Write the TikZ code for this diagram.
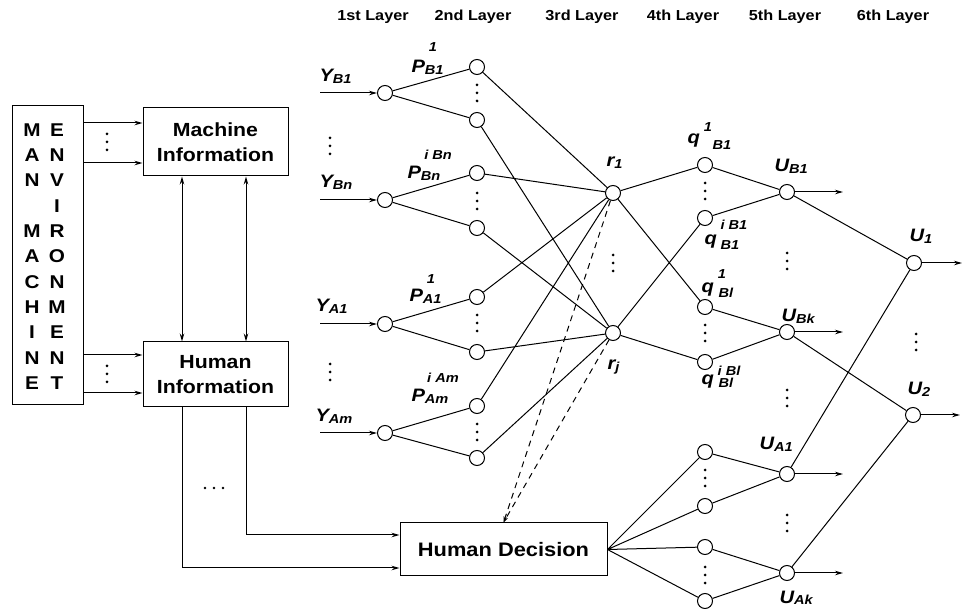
\documentclass[tikz,border=0pt]{standalone}
\usepackage{fontspec}
\setmainfont{Liberation Sans}[FakeStretch=1.12]
\usetikzlibrary{arrows.meta}
\newcommand{\sbs}[1]{\raisebox{-1.5pt}{\fontsize{13}{13}\selectfont #1}}
\begin{document}
\begin{tikzpicture}[x=1pt,y=-1pt,line width=1pt,
 nd/.style={circle, draw, fill=white, minimum size=15pt, inner sep=0pt},
 box/.style={draw, inner sep=0pt},
 btxt/.style={font=\fontsize{19}{25}\selectfont\bfseries, align=center},
 hdr/.style={font=\fontsize{14.5}{15}\selectfont\bfseries, inner sep=0pt},
 lbl/.style={font=\fontsize{18}{18}\selectfont\bfseries\itshape, inner sep=0pt},
 sup/.style={font=\fontsize{13}{13}\selectfont\bfseries\itshape, inner sep=0pt},
 arr/.style={-{Stealth[length=8pt,width=4.5pt]}},
 darr/.style={{Stealth[length=8pt,width=4.5pt]}-{Stealth[length=8pt,width=4.5pt]}},
 dd/.style={dash pattern=on 6pt off 5pt, -{Stealth[length=6pt,width=3.5pt]}},
 envl/.style={font=\fontsize{18.5}{18}\selectfont\bfseries, inner sep=0pt},
 vdts/.pic={\fill (0,-8) circle[radius=1.5pt] (0,0) circle[radius=1.5pt] (0,8) circle[radius=1.5pt];},
 hdts/.pic={\fill (-9,0) circle[radius=1.3pt] (0,0) circle[radius=1.3pt] (9,0) circle[radius=1.3pt];}
]
\useasboundingbox (0,0) rectangle (962,609);

% headers
\node[hdr] (h1) at (373,17) {1st Layer};
\node[hdr] (h2) at (473,17) {2nd Layer};
\node[hdr] (h3) at (582,17) {3rd Layer};
\node[hdr] (h4) at (683,17) {4th Layer};
\node[hdr] (h5) at (785,17) {5th Layer};
\node[hdr] (h6) at (893,17) {6th Layer};

% environment box
\node[box, minimum width=71pt, minimum height=299pt] (env) at (47.5,255.5) {};
\foreach \c [count=\i from 0] in {M,A,N,,M,A,C,H,I,N,E}
  \node[envl] (el\i) at (32,130+25.3*\i) {\c};
\foreach \c [count=\i from 0] in {E,N,V,I,R,O,N,M,E,N,T}
  \node[envl] (er\i) at (57,130+25.3*\i) {\c};

% information boxes
\node[box, minimum width=145pt, minimum height=68pt, btxt] (mi) at (215.5,142) {Machine\\Information};
\node[box, minimum width=145pt, minimum height=65pt, btxt] (hi) at (215.5,374.5) {Human\\Information};
\node[box, minimum width=207pt, minimum height=53pt, font=\fontsize{19.5}{22}\selectfont\bfseries] (hd) at (503.5,549.5) {Human Decision};

\draw[arr] (env.east |- 0,123) -- (mi.west |- 0,123);
\draw[arr] (env.east |- 0,163) -- (mi.west |- 0,163);
\draw[arr] (env.east |- 0,355) -- (hi.west |- 0,355);
\draw[arr] (env.east |- 0,393) -- (hi.west |- 0,393);
\pic at (107,142) {vdts};
\pic at (107,374) {vdts};

\draw[darr] (mi.south -| 182,0) -- (hi.north -| 182,0);
\draw[darr] (mi.south -| 246,0) -- (hi.north -| 246,0);

\draw[arr] (hi.south -| 182,0) |- (hd.west |- 0,568);
\draw[arr] (hi.south -| 246,0) |- (hd.west |- 0,535);
\pic at (214,488) {hdts};

% layer 1
\node[nd] (y1) at (385,93) {};
\node[nd] (y2) at (385,200) {};
\node[nd] (y3) at (385,324) {};
\node[nd] (y4) at (385,433) {};
\coordinate (i1) at (320,93);
\coordinate (i2) at (320,200);
\coordinate (i3) at (320,324);
\coordinate (i4) at (320,433);
\foreach \k in {1,...,4} \draw[arr] (i\k) -- (y\k);
\pic at (330,146) {vdts};
\pic at (330,372) {vdts};

\node[lbl, anchor=base west] (ly1) at (319,82) {Y\sbs{B1}};
\node[lbl, anchor=base west] (ly2) at (319,188) {Y\sbs{Bn}};
\node[lbl, anchor=base west] (ly3) at (315,312) {Y\sbs{A1}};
\node[lbl, anchor=base west] (ly4) at (315,422) {Y\sbs{Am}};

% layer 2
\foreach \k/\yy in {1/67,2/120,3/173,4/228,5/297,6/352,7/406,8/458}
  \node[nd] (p\k) at (477,\yy) {};
\draw (y1) -- (p1) (y1) -- (p2) (y2) -- (p3) (y2) -- (p4)
      (y3) -- (p5) (y3) -- (p6) (y4) -- (p7) (y4) -- (p8);
\pic at (477,93) {vdts};
\pic at (477,201) {vdts};
\pic at (477,323) {vdts};
\pic at (477,432) {vdts};

\node[lbl, anchor=base west] (lp1) at (411,73) {P\sbs{B1}};
\node[sup] (sp1) at (433,47) {1};
\node[lbl, anchor=base west] (lp2) at (407,179) {P\sbs{Bn}};
\node[sup] (sp2) at (438,155) {i Bn};
\node[lbl, anchor=base west] (lp3) at (409,302) {P\sbs{A1}};
\node[sup] (sp3) at (431,279) {1};
\node[lbl, anchor=base west] (lp4) at (411,402) {P\sbs{Am}};
\node[sup] (sp4) at (443,378) {i Am};

% layer 3
\node[nd] (r1) at (613,193) {};
\node[nd] (rj) at (613,333) {};
\draw (p1) -- (r1) (p2) -- (rj) (p3) -- (r1) (p4) -- (rj)
      (p5) -- (r1) (p6) -- (rj) (p7) -- (r1) (p8) -- (rj);
\pic at (613,263) {vdts};
\node[lbl, anchor=base west] (lr1) at (606,167) {r\sbs{1}};
\node[lbl, anchor=base west] (lrj) at (607,370) {r\sbs{j}};

% layer 4
\node[nd] (q1) at (705,165) {};
\node[nd] (q2) at (705,218) {};
\node[nd] (q3) at (705,307) {};
\node[nd] (q4) at (705,362) {};
\draw (r1) -- (q1) (r1) -- (q3) (rj) -- (q2) (rj) -- (q4);
\pic at (705,191) {vdts};
\pic at (705,333) {vdts};

\node[lbl, anchor=base west] (lq1) at (687,144) {q};
\node[sup, anchor=base west] (sq1) at (712,150) {B1};
\node[sup] (tq1) at (708,127) {1};
\node[lbl, anchor=base west] (lq2) at (704,245) {q};
\node[sup, anchor=base west] (sq2) at (720,250) {B1};
\node[sup] (tq2) at (734,225) {i B1};
\node[lbl, anchor=base west] (lq3) at (701,293) {q};
\node[sup, anchor=base west] (sq3) at (718,298) {Bl};
\node[sup] (tq3) at (722,274) {1};
\node[lbl, anchor=base west] (lq4) at (701,385) {q};
\node[sup, anchor=base west] (sq4) at (718,388) {Bl};
\node[sup] (tq4) at (729,371) {i Bl};

% bottom layer 4
\node[nd] (b1) at (705,452) {};
\node[nd] (b2) at (705,506) {};
\node[nd] (b3) at (705,547) {};
\node[nd] (b4) at (705,601) {};
\draw (hd.east) -- (b1) (hd.east) -- (b2) (hd.east) -- (b3) (hd.east) -- (b4);
\pic at (705,478) {vdts};
\pic at (705,575) {vdts};

% layer 5
\node[nd] (ub1) at (787,192) {};
\node[nd] (ubk) at (787,332) {};
\node[nd] (ua1) at (787,474) {};
\node[nd] (uak) at (787,573) {};
\draw (q1) -- (ub1) (q2) -- (ub1) (q3) -- (ubk) (q4) -- (ubk)
      (b1) -- (ua1) (b2) -- (ua1) (b3) -- (uak) (b4) -- (uak);
\coordinate (o1) at (843,192);
\coordinate (o2) at (843,332);
\coordinate (o3) at (843,474);
\coordinate (o4) at (843,573);
\draw[arr] (ub1) -- (o1);
\draw[arr] (ubk) -- (o2);
\draw[arr] (ua1) -- (o3);
\draw[arr] (uak) -- (o4);
\pic at (787,261) {vdts};
\pic at (787,398) {vdts};
\pic at (787,523) {vdts};

\node[lbl, anchor=base west] (lub1) at (774,172) {U\sbs{B1}};
\node[lbl, anchor=base west] (lubk) at (781,322) {U\sbs{Bk}};
\node[lbl, anchor=base west] (lua1) at (759,450) {U\sbs{A1}};
\node[lbl, anchor=base west] (luak) at (779,603) {U\sbs{Ak}};

% layer 6
\node[nd] (u1) at (914,263) {};
\node[nd] (u2) at (913,415) {};
\draw (ub1) -- (u1) (ua1) -- (u1) (ubk) -- (u2) (uak) -- (u2);
\coordinate (o5) at (962,263);
\coordinate (o6) at (960,415);
\draw[arr] (u1) -- (o5);
\draw[arr] (u2) -- (o6);
\pic at (916,342) {vdts};
\node[lbl, anchor=base west] (lu1) at (909,242) {U\sbs{1}};
\node[lbl, anchor=base west] (lu2) at (907,395) {U\sbs{2}};

% dashed feedback
\draw[dd] (r1) -- (hd.north);
\draw[dd] (rj) -- (hd.north);
\end{tikzpicture}
\end{document}
